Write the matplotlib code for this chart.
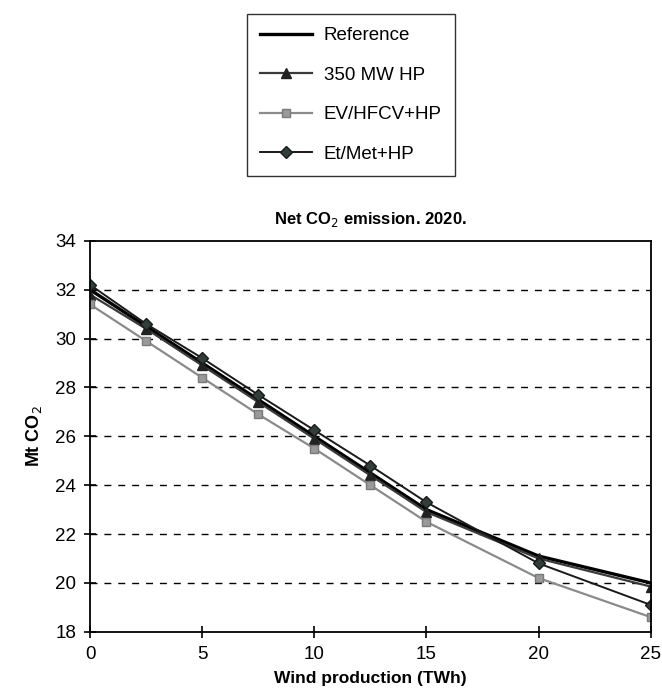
import matplotlib
matplotlib.use("Agg")
import matplotlib.pyplot as plt

plt.rcParams['font.family'] = ['Liberation Sans', 'DejaVu Sans']

# wind production (TWh) and net CO2 emission (Mt) per scenario, 2020
wind = [0, 2.5, 5, 7.5, 10, 12.5, 15, 20, 25]
reference = [32.0, 30.5, 29.0, 27.5, 26.0, 24.5, 23.0, 21.1, 20.0]
hp350 = [31.8, 30.4, 28.9, 27.4, 25.9, 24.4, 22.9, 21.0, 19.85]
ev_hfcv = [31.4, 29.9, 28.4, 26.9, 25.5, 24.0, 22.5, 20.2, 18.6]
et_met = [32.2, 30.6, 29.2, 27.7, 26.25, 24.8, 23.3, 20.8, 19.1]

fig = plt.figure(figsize=(6.62, 6.92), dpi=100)
ax = fig.add_axes([0.136, 0.087, 0.847, 0.565])

l1, = ax.plot(wind, reference, color='black', lw=2.4, label='Reference')
l2, = ax.plot(wind, hp350, color='#3a3a3a', lw=1.6, marker='^', ms=7,
              mfc='#222222', mec='#222222', label='350 MW HP')
l3, = ax.plot(wind, ev_hfcv, color='#8a8a8a', lw=1.6, marker='s', ms=6,
              mfc='#9a9a9a', mec='#7a7a7a', label='EV/HFCV+HP')
l4, = ax.plot(wind, et_met, color='#1a1a1a', lw=1.4, marker='D', ms=6,
              mfc='#2f3f3a', mec='#1a1a1a', label='Et/Met+HP')

ax.set_xlim(0, 25)
ax.set_ylim(18, 34)
ax.set_xticks([0, 5, 10, 15, 20, 25])
ax.set_yticks(range(18, 35, 2))
for v in range(20, 34, 2):
    ax.axhline(v, color='black', ls=(0, (5, 5)), lw=1.0, zorder=0)

ax.tick_params(axis='both', direction='inout', length=8, width=1.2,
               labelsize=13.5, pad=6)
for s in ax.spines.values():
    s.set_linewidth(1.3)

ax.set_title('Net CO$_2$ emission. 2020.', fontsize=12, fontweight='bold', pad=12)
ax.set_xlabel('Wind production (TWh)', fontsize=12.5, fontweight='bold', labelpad=6)
ax.set_ylabel('Mt CO$_2$', fontsize=13, fontweight='bold', labelpad=8)

fig.legend(handles=[l1, l2, l3, l4], loc='upper center',
           bbox_to_anchor=(0.53, 0.98), fontsize=13.5, frameon=True,
           fancybox=False, edgecolor='black', handlelength=2.8,
           labelspacing=1.2, borderpad=0.7, handletextpad=0.6,
           borderaxespad=0)

fig.savefig('out.png', dpi=100)
